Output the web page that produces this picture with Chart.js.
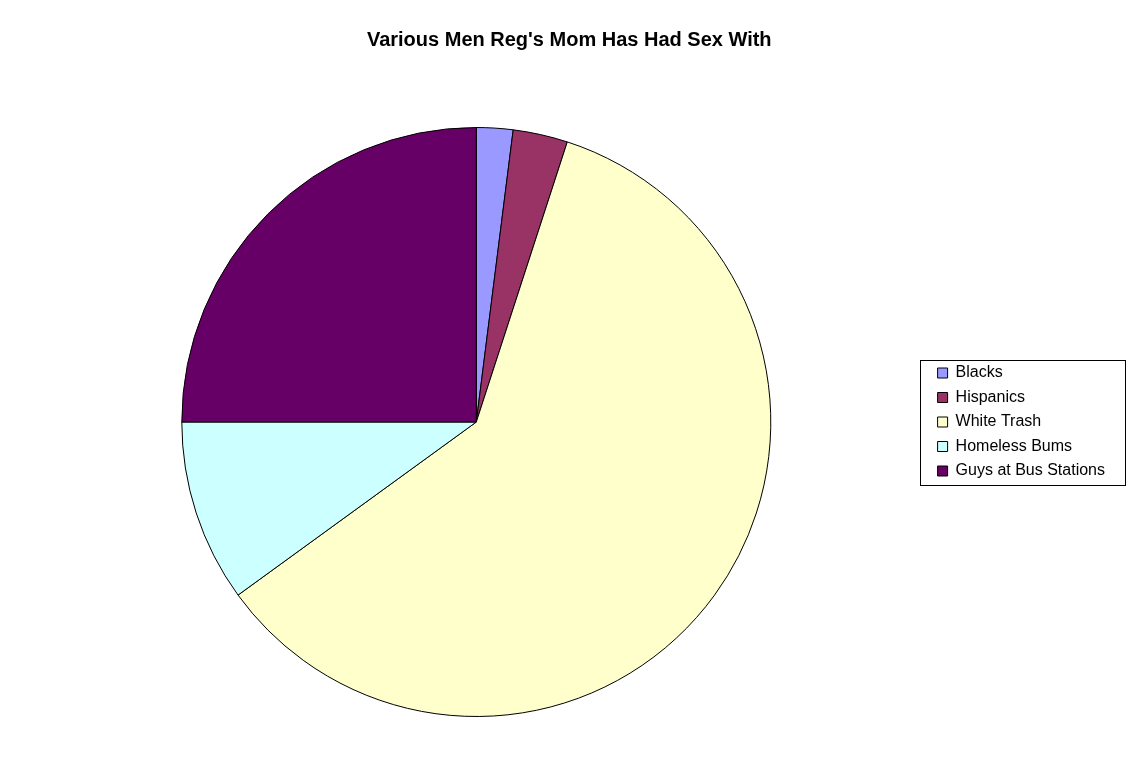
<!DOCTYPE html>
<html>
<head>
<meta charset="utf-8">
<script src="https://cdn.jsdelivr.net/npm/chart.js@4/dist/chart.umd.min.js"></script>
<style>
  html, body { margin: 0; padding: 0; background: #fff; }
  canvas { display: block; }
</style>
</head>
<body>
<canvas id="chart" width="1138" height="778"></canvas>
<script>
var categories = ["Blacks", "Hispanics", "White Trash", "Homeless Bums", "Guys at Bus Stations"];
var values = [2, 3, 60, 10, 25];
var sliceColors = ["#9999FF", "#993366", "#FFFFCC", "#CCFFFF", "#660066"];
var chartTitle = "Various Men Reg's Mom Has Had Sex With";

// box around the legend, like the old office charts
var legendBoxPlugin = {
    id: 'legendbox',
    afterDraw(chart) {
        var boxes = chart.legend && chart.legend.legendHitBoxes;
        if (!boxes || !boxes.length) return;
        var first = boxes[0];
        var last = boxes[boxes.length - 1];
        var right = 0;
        boxes.forEach(function(b){ right = Math.max(right, b.left + b.width); });
        var ctx = chart.ctx;
        ctx.save();
        ctx.strokeStyle = '#000';
        ctx.lineWidth = 1;
        var x0 = Math.round(first.left - 18) + 0.5;
        var y0 = Math.round(first.top - 5) + 0.5;
        var x1 = Math.round(right + 20) + 0.5;
        var y1 = Math.round(last.top + last.height + 6) + 0.5;
        ctx.strokeRect(x0, y0, x1 - x0, y1 - y0);
        ctx.restore();
    }
};

Chart.defaults.font.family = "'Liberation Sans', Arial, sans-serif";
Chart.defaults.color = '#000';

var ctx = document.getElementById('chart').getContext('2d');
new Chart(ctx, {
    type: 'pie',
    data: {
        labels: categories,
        datasets: [{
            data: values,
            backgroundColor: sliceColors,
            borderColor: '#000',
            borderWidth: 1
        }]
    },
    options: {
        responsive: false,
        animation: false,
        events: [],
        layout: {
            padding: { left: 23.5, right: 23, top: 0, bottom: 61 }
        },
        plugins: {
            title: {
                display: true,
                text: chartTitle,
                font: { size: 20, weight: 'bold' },
                color: '#000',
                padding: { top: 28, bottom: 75 }
            },
            legend: {
                display: true,
                position: 'right',
                align: 'center',
                fullSize: false,
                labels: {
                    boxWidth: 10,
                    boxHeight: 10,
                    padding: 8.5,
                    color: '#000',
                    font: { size: 16 }
                }
            },
            tooltip: { enabled: false }
        }
    },
    plugins: [legendBoxPlugin]
});
</script>
</body>
</html>
